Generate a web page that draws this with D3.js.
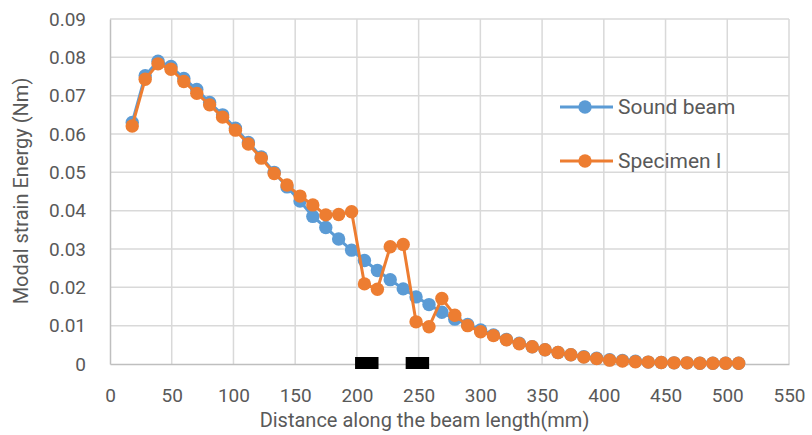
<!DOCTYPE html>
<html>
<head>
<meta charset="utf-8">
<script src="https://cdn.jsdelivr.net/npm/d3@7/dist/d3.min.js"></script>
<style>
  body { margin: 0; background: #fff; }
  text { font-family: "Roboto", sans-serif; fill: #595959; }
</style>
</head>
<body>
<svg id="chart"></svg>
<script>
// distance along the beam (mm)
var distance = [18, 28.5, 38.9, 49.4, 59.8, 70.3, 80.7, 91.2, 101.6, 112.1, 122.5, 133, 143.4, 153.9, 164.3, 174.8,
    185.2, 195.7, 206.1, 216.6, 227, 237.5, 247.9, 258.4, 268.8, 279.3, 289.7, 300.2, 310.6, 321.1, 331.5, 342,
    352.4, 362.9, 373.3, 383.8, 394.2, 404.7, 415.1, 425.6, 436, 446.5, 456.9, 467.4, 477.8, 488.3, 498.7, 509.2];

var soundBeam = [0.0630, 0.0752, 0.0790, 0.0776, 0.0745, 0.0716, 0.0682, 0.0650, 0.0615, 0.0578, 0.0540, 0.0500,
    0.0462, 0.0425, 0.0385, 0.0356, 0.0326, 0.0297, 0.0270, 0.0244, 0.0220, 0.0196, 0.0175, 0.0155, 0.0135, 0.0117,
    0.0103, 0.0089, 0.0076, 0.0064, 0.0054, 0.0045, 0.0037, 0.0030, 0.0024, 0.0019, 0.0015, 0.0011, 0.0009, 0.0007,
    0.0005, 0.0004, 0.0003, 0.0003, 0.0002, 0.0002, 0.0002, 0.0002];

var specimenI = [0.0621, 0.0743, 0.0783, 0.0769, 0.0737, 0.0706, 0.0676, 0.0644, 0.0610, 0.0574, 0.0537, 0.0497,
    0.0467, 0.0438, 0.0415, 0.0389, 0.0390, 0.0397, 0.0209, 0.0195, 0.0306, 0.0312, 0.0110, 0.0097, 0.0171, 0.0127,
    0.0100, 0.0084, 0.0074, 0.0063, 0.0053, 0.0045, 0.0037, 0.0030, 0.0024, 0.0018, 0.0014, 0.0010, 0.0008, 0.0006,
    0.0005, 0.0004, 0.0003, 0.0003, 0.0002, 0.0002, 0.0002, 0.0002];

// damaged zones drawn as black markers on the axis (mm)
var damageZones = [[198.5, 217.5], [239.5, 258.5]];

var xTicks = [0, 50, 100, 150, 200, 250, 300, 350, 400, 450, 500, 550];
var yTicks = [0, 0.01, 0.02, 0.03, 0.04, 0.05, 0.06, 0.07, 0.08, 0.09];

var seriesNames = ["Sound beam", "Specimen I"];
var colors = ["#5B9BD5", "#ED7D31"];

const W = 812, H = 435;
const margin = {top: 19, right: 23, bottom: 71, left: 110};
const width = W - margin.left - margin.right;
const height = H - margin.top - margin.bottom;

var svg = d3.select("#chart").attr("width", W).attr("height", H);
var g = svg.append("g").attr("transform", "translate(" + margin.left + "," + margin.top + ")");

var x = d3.scaleLinear().domain([0, 550]).range([0, width]);
var y = d3.scaleLinear().domain([0, 0.09]).range([height, 0]);

// gridlines
g.append("g").selectAll("line").data(yTicks.slice(1)).enter().append("line")
    .attr("x1", 0).attr("x2", width)
    .attr("y1", d => y(d)).attr("y2", d => y(d))
    .attr("stroke", "#d9d9d9").attr("stroke-width", 1.5);
g.append("g").selectAll("line").data(xTicks.slice(1)).enter().append("line")
    .attr("x1", d => x(d)).attr("x2", d => x(d))
    .attr("y1", 0).attr("y2", height)
    .attr("stroke", "#d9d9d9").attr("stroke-width", 1.5);

// axes
var xAxis = g.append("g").attr("transform", "translate(0," + height + ")")
    .call(d3.axisBottom(x).tickValues(xTicks).tickSize(0).tickPadding(25).tickFormat(d3.format("d")));
var yAxis = g.append("g")
    .call(d3.axisLeft(y).tickValues(yTicks).tickSize(0).tickPadding(24).tickFormat(d => d === 0 ? "0" : d3.format(".2f")(d)));
[xAxis, yAxis].forEach(function (a) {
    a.select(".domain").attr("stroke", "#bfbfbf").attr("stroke-width", 1.5);
    a.selectAll("text").style("font-size", "19px").attr("fill", "#595959");
});

// series
var line = d3.line().x(d => x(d[0])).y(d => y(d[1]));
[soundBeam, specimenI].forEach(function (vals, k) {
    var pts = distance.map((d, i) => [d, vals[i]]);
    g.append("path").datum(pts)
        .attr("fill", "none").attr("stroke", colors[k]).attr("stroke-width", 3)
        .attr("d", line);
    g.append("g").selectAll("circle").data(pts).enter().append("circle")
        .attr("cx", d => x(d[0])).attr("cy", d => y(d[1]))
        .attr("r", 6.7).attr("fill", colors[k]);
});

// damage markers
g.append("g").selectAll("rect").data(damageZones).enter().append("rect")
    .attr("x", d => x(d[0])).attr("width", d => x(d[1]) - x(d[0]))
    .attr("y", height - 7).attr("height", 12)
    .attr("fill", "#000");

// legend
var legend = g.append("g").attr("transform", "translate(450,88)");
seriesNames.forEach(function (name, k) {
    var row = legend.append("g").attr("transform", "translate(0," + (k * 54) + ")");
    row.append("line").attr("x1", 0).attr("x2", 53).attr("stroke", colors[k]).attr("stroke-width", 3);
    row.append("circle").attr("cx", 25).attr("r", 6.7).attr("fill", colors[k]);
    row.append("text").attr("x", 58).attr("dy", "0.35em").style("font-size", "21px").text(name);
});

// axis titles
svg.append("text")
    .attr("x", margin.left + width / 2 - 25).attr("y", 427)
    .attr("text-anchor", "middle").style("font-size", "20px")
    .text("Distance along the beam length(mm)");
svg.append("text")
    .attr("transform", "translate(28," + (margin.top + 172) + ") rotate(-90)")
    .attr("text-anchor", "middle").style("font-size", "20px")
    .text("Modal strain Energy (Nm)");
</script>
</body>
</html>
